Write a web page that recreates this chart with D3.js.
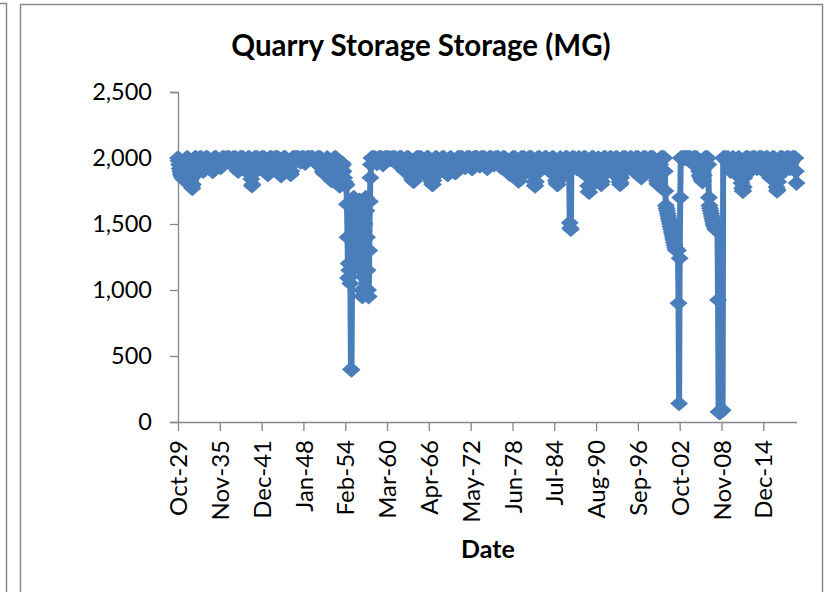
<!DOCTYPE html>
<html><head><meta charset="utf-8">
<script src="https://cdn.jsdelivr.net/npm/d3@7"></script>
<style>
html,body{margin:0;padding:0;background:#fff;}
svg{display:block;}
text{font-family:Lato,"Open Sans",sans-serif;fill:#000;}
</style></head>
<body><svg id="chart" width="831" height="592"></svg>
<script>
// Monthly storage (MG), one row per water year Oct..Sep, starting Oct 1929
const storage1929_1939 = [
2000,1980,1950,1920,1900,1880,1870,1860,1850,1840,1850,1860,
1880,1900,1950,2000,2000,2000,1980,1940,1900,1860,1830,1800,
1780,1770,1800,1860,1920,2000,2000,2000,2000,1980,1960,1940,
1930,1950,2000,2000,2000,2000,1960,1920,1900,1910,1950,1980,
2000,2000,2000,2000,2000,1980,1950,1930,1920,1930,1950,1920,
1900,1900,1940,2000,2000,2000,2000,2000,1990,1970,1960,1950,
1940,1935,1930,1930,1960,2000,2000,2000,2000,2000,1990,1980,
2000,2000,2000,2000,2000,2000,2000,1990,1980,1970,1950,1960,
2000,2000,2000,2000,2000,2000,1970,1940,1910,1900,1930,1970,
2000,2000,2000,2000,2000,2000,2000,1980,1960,1940,1920,1900,
1920,1950,2000,2000,2000,2000,1960,1900,1840,1790,1800,1880
];
const storage1940_1952 = [
1950,2000,2000,2000,2000,2000,2000,2000,1990,1970,1950,1940,
1960,2000,2000,2000,2000,2000,2000,2000,1980,1950,1920,1900,
1880,1875,1890,1940,2000,2000,2000,2000,2000,1980,1960,1940,
1960,2000,2000,2000,2000,2000,2000,2000,1980,1950,1910,1880,
1865,1880,1920,1980,2000,2000,2000,2000,2000,1990,1970,1940,
1920,1930,1950,1910,1880,1875,1900,1950,2000,2000,2000,2000,
2000,2000,2000,2000,2000,2000,2000,2000,1990,1980,1970,1980,
2000,2000,2000,2000,2000,1990,1960,1970,1990,2000,2000,2000,
2000,2000,2000,2000,2000,2000,2000,2000,2000,1990,1980,1970,
1970,1970,1990,2000,2000,2000,2000,2000,2000,2000,1980,1950,
1920,1900,1890,1885,1880,1880,1900,1950,2000,2000,1990,1960,
1930,1900,1870,1850,1830,1830,1850,1900,1960,2000,2000,2000,
2000,1980,1950,1900,1850,1810,1790,1790,1820,1880,1940,1960
];
const storage1953_1956 = [
1950,1900,1850,1820,1800,1790,1800,1650,1400,1090,1200,1150,
1100,1050,400,395,1150,1400,1600,1700,1650,1500,1350,1300,
1250,1200,1300,1450,1600,1680,1550,1350,1150,1000,950,960,
1100,1300,1500,1650,1700,1600,1400,1150,1000,950,1300,1670
];
const storage1957_1984 = [
1850,1950,2000,2000,2000,2000,2000,2000,2000,1990,1970,1960,
1960,1980,2000,2000,2000,2000,2000,2000,2000,1980,1950,1960,
1990,2000,2000,2000,2000,2000,2000,2000,2000,2000,1990,1990,
1990,2000,2000,2000,2000,2000,2000,2000,2000,1990,1970,1960,
1950,1970,2000,2000,2000,2000,2000,2000,1980,1950,1920,1910,
1900,1910,1950,2000,2000,2000,2000,2000,1980,1950,1910,1880,
1860,1840,1830,1825,1825,1850,1900,1960,2000,2000,2000,2000,
2000,2000,2000,2000,2000,2000,1980,1950,1920,1900,1880,1890,
1920,1960,2000,2000,2000,2000,2000,1980,1940,1890,1850,1820,
1800,1800,1830,1880,1950,2000,2000,2000,2000,1990,1960,1930,
1910,1900,1900,1920,1960,2000,2000,2000,2000,2000,1980,1950,
1920,1900,1880,1876,1880,1900,1950,2000,2000,2000,1990,1960,
1930,1910,1900,1895,1890,1890,1900,1950,2000,2000,2000,2000,
2000,2000,2000,2000,2000,2000,1990,1970,1950,1930,1930,1960,
2000,2000,2000,2000,2000,2000,2000,1980,1950,1920,1920,1950,
2000,2000,2000,2000,2000,2000,2000,2000,1990,1970,1950,1940,
1960,2000,2000,2000,2000,2000,2000,2000,2000,1980,1950,1930,
1920,1930,1970,2000,2000,2000,2000,2000,2000,1990,1970,1960,
1950,1960,2000,2000,2000,2000,2000,2000,2000,1990,1960,1940,
1930,1940,1980,2000,2000,2000,2000,2000,1990,1960,1930,1910,
1900,1890,1885,1880,1880,1880,1900,1950,2000,2000,2000,2000,
2000,2000,1980,1940,1890,1850,1830,1826,1850,1900,1960,2000,
2000,2000,2000,2000,2000,2000,1980,1950,1920,1900,1900,1940,
2000,2000,2000,2000,2000,2000,2000,1970,1920,1870,1820,1790,
1790,1820,1880,1950,2000,2000,2000,2000,2000,1990,1970,1950,
1940,1930,1930,1960,2000,2000,2000,2000,2000,1990,1960,1930,
1910,1900,1900,1920,1960,2000,2000,2000,2000,1970,1920,1870,
1830,1810,1800,1800,1830,1880,1950,2000,2000,1990,1950,1910
];
const storage1985_1999 = [
1880,1880,1900,1950,2000,2000,2000,2000,2000,1980,1950,1900,
1510,1470,1460,1950,2000,2000,2000,2000,2000,1990,1970,1940,
1920,1930,1960,2000,2000,2000,1950,1910,1900,1910,1950,1980,
2000,2000,2000,2000,2000,1980,1930,1860,1790,1745,1740,1780,
1850,1920,2000,2000,2000,2000,2000,1980,1940,1900,1880,1890,
1930,1980,2000,1980,1940,1880,1830,1800,1820,1870,1940,2000,
2000,2000,2000,2000,1980,1950,1920,1900,1910,1950,2000,2000,
2000,2000,1960,1920,1890,1880,1900,1950,2000,2000,2000,2000,
1980,1920,1860,1820,1800,1810,1850,1920,2000,2000,2000,2000,
2000,2000,2000,1980,1950,1930,1920,1940,1980,2000,2000,2000,
2000,1980,1940,1910,1900,1920,1970,2000,2000,2000,2000,2000,
2000,1970,1920,1880,1860,1850,1870,1930,2000,2000,2000,2000,
2000,2000,1970,1940,1910,1900,1920,1960,2000,2000,2000,2000,
2000,2000,2000,1980,1950,1920,1890,1860,1830,1810,1800,1820,
1860,1900,1950,2000,2000,2000,2000,2000,2000,2000,1900,1750
];
const storage2000_2008 = [
1640,1620,1600,1580,1560,1540,1520,1500,1480,1460,1440,1420,
1400,1380,1360,1340,1320,1310,1300,1300,1300,1300,900,140,
1240,1700,2000,2000,2000,2000,2000,2000,2000,2000,2000,2000,
2000,2000,2000,2000,2000,2000,2000,2000,1990,1970,1960,1970,
2000,2000,2000,2000,2000,2000,2000,1990,1960,1930,1900,1870,
1860,1850,1840,1830,1820,1830,1870,1930,2000,2000,2000,2000,
2000,2000,1950,1700,1640,1620,1600,1580,1560,1540,1520,1500,
1490,1480,1470,1460,1455,1450,1455,924,78,75,72,75,
80,85,88,90,2000,2000,2000,2000,2000,2000,1990,1970
];
const storage2009_2019 = [
2000,2000,1970,1930,1910,1900,1920,1960,2000,2000,2000,1980,
1940,1900,1880,1880,1920,1970,2000,2000,2000,1980,1930,1870,
1810,1770,1750,1750,1780,1850,1930,2000,2000,2000,2000,2000,
2000,1970,1930,1900,1910,1950,2000,2000,2000,2000,2000,2000,
2000,1980,1950,1920,1930,1970,2000,2000,2000,2000,2000,2000,
2000,1960,1920,1900,1910,1950,2000,2000,2000,2000,2000,1980,
1930,1880,1850,1860,1900,1960,2000,2000,2000,2000,1980,1930,
1850,1780,1750,1760,1820,1900,1970,2000,2000,2000,2000,2000,
2000,1960,1910,1900,1930,1980,2000,2000,2000,2000,2000,2000,
1960,1920,1930,1970,2000,2000,2000,2000,2000,2000,2000,1900,
1810
];
const tickLabels = ["Oct-29","Nov-35","Dec-41","Jan-48","Feb-54","Mar-60","Apr-66",
  "May-72","Jun-78","Jul-84","Aug-90","Sep-96","Oct-02","Nov-08","Dec-14"];
const labelEvery = 73; // months between labelled categories
const yTicks = [0,500,1000,1500,2000,2500];
const chartTitle = "Quarry Storage Storage (MG)";
const xTitle = "Date";

const values = [].concat(storage1929_1939, storage1940_1952, storage1953_1956,
  storage1957_1984, storage1985_1999, storage2000_2008, storage2009_2019);
const data = values.map((v,i)=>({i, v}));

const svg = d3.select("#chart");
svg.append("rect").attr("width",831).attr("height",592).attr("fill","#fff");

// frames (neighbouring chart edge + this chart's border)
svg.append("path").attr("d","M0,3.5H6.5V592").attr("fill","none").attr("stroke","#8a8a8a").attr("stroke-width",1.5);
svg.append("path").attr("d","M20.5,600V4.5H822.5V600").attr("fill","none").attr("stroke","#8a8a8a").attr("stroke-width",1.5);

const x = d3.scaleLinear().domain([0, values.length-1]).range([178, 796.5]);
const y = d3.scaleLinear().domain([0, 2500]).range([422, 92]);

const axisColor = "#868686";

// Y axis
const gy = svg.append("g").attr("transform","translate(178,0)")
  .call(d3.axisLeft(y).tickValues(yTicks).tickFormat(d3.format(",")).tickSize(8).tickPadding(18));
gy.select(".domain").attr("stroke",axisColor).attr("stroke-width",1.3);
gy.selectAll(".tick line").attr("stroke",axisColor).attr("stroke-width",1.3);
gy.selectAll(".tick text").attr("font-size",23.5).attr("font-family","Lato").attr("fill","#000").attr("dy","0.33em");

// X axis
const gx = svg.append("g").attr("transform","translate(0,422)")
  .call(d3.axisBottom(x).tickValues(tickLabels.map((d,k)=>k*labelEvery))
    .tickFormat((d,k)=>tickLabels[k]).tickSize(9).tickSizeOuter(0).tickPadding(0));
gx.select(".domain").attr("stroke",axisColor).attr("stroke-width",1.3);
gx.selectAll(".tick line").attr("stroke",axisColor).attr("stroke-width",1.3);
gx.selectAll(".tick text").attr("font-size",24).attr("font-family","Lato").attr("fill","#000")
  .attr("text-anchor","end").attr("transform","rotate(-90)")
  .attr("x",-18).attr("y",0).attr("dy","0.36em");

// series
const col = "#4a7ebb";
svg.append("path").datum(data)
  .attr("d", d3.line().x(d=>x(d.i)).y(d=>y(d.v)))
  .attr("fill","none").attr("stroke",col).attr("stroke-width",6).attr("stroke-linejoin","round");
const hw = 9, hh = 7.8;
svg.append("g").selectAll("path").data(data).join("path")
  .attr("d", d=>{const cx=x(d.i), cy=y(d.v);
    return `M${cx-hw},${cy}L${cx},${cy-hh}L${cx+hw},${cy}L${cx},${cy+hh}Z`;})
  .attr("fill",col);

// titles
svg.append("text").attr("x",421).attr("y",56).attr("text-anchor","middle")
  .attr("font-size",29.5).attr("font-weight","bold").text(chartTitle);
svg.append("text").attr("x",488).attr("y",558).attr("text-anchor","middle")
  .attr("font-size",25).attr("font-weight","bold").text(xTitle);
</script></body></html>
